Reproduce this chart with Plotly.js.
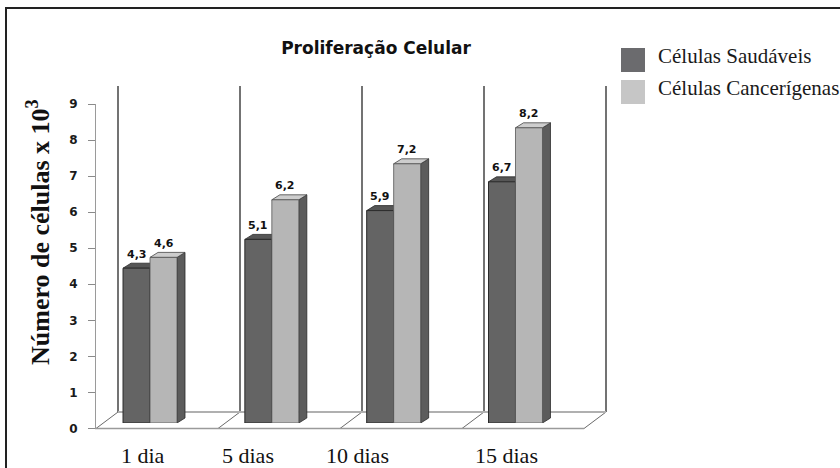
<!DOCTYPE html>
<html>
<head>
<meta charset="utf-8">
<script src="https://cdn.plot.ly/plotly-3.0.1.min.js"></script>
<style>
  html, body { margin: 0; padding: 0; background: #fff; }
  #chart { width: 840px; height: 468px; }
</style>
</head>
<body>
<div id="chart"></div>
<script>
// Proliferação celular: número de células (x 10^3) por dia de cultura
const categories = ['1 dia', '5 dias', '10 dias', '15 dias'];
const seriesNames = ['Células Saudáveis', 'Células Cancerígenas'];
const healthy = [4.3, 5.1, 5.9, 6.7];
const cancer = [4.6, 6.2, 7.2, 8.2];
const yTicks = [0, 1, 2, 3, 4, 5, 6, 7, 8, 9];

const W = 840, H = 468;
const px = x => x / W;            // canvas pixel -> paper x
const py = y => (H - y) / H;      // canvas pixel -> paper y

const colDark = '#646464', colLight = '#b6b6b6';
const legendDark = '#6b6b6e', legendLight = '#c6c6c6';
const serif = 'Liberation Serif, Times New Roman, serif';
const sans = 'DejaVu Sans, Verdana, sans-serif';

// bar geometry in category units
const bargap = 0.557;
const barW = (1 - bargap) / 2;
const depthX = 8 / 121.8;   // 3D depth, horizontal (category units)
const depthY = 5 / 36;      // 3D depth, vertical (value units)

const fmt = v => v.toFixed(1).replace('.', ',');

const traces = [
  {
    type: 'bar', name: seriesNames[0], x: categories, y: healthy,
    marker: { color: colDark, line: { color: '#2a2a2a', width: 1 } },
    hoverinfo: 'skip', showlegend: false
  },
  {
    type: 'bar', name: seriesNames[1], x: categories, y: cancer,
    marker: { color: colLight, line: { color: '#555', width: 0.8 } },
    hoverinfo: 'skip', showlegend: false
  },
  // carries the visible value axis
  { type: 'scatter', x: [], y: [], xaxis: 'x', yaxis: 'y2', showlegend: false, hoverinfo: 'skip' }
];

const shapes = [];
const annotations = [];

// outer frame
shapes.push({ type: 'rect', xref: 'paper', yref: 'paper',
  x0: px(6), x1: px(846), y0: py(476), y1: py(8),
  line: { color: '#222', width: 2 }, layer: 'below' });

// back wall dividers and floor
const wallX = [118, 240, 362, 484, 606];
wallX.forEach(x => {
  shapes.push({ type: 'line', xref: 'paper', yref: 'paper',
    x0: px(x), x1: px(x), y0: py(86), y1: py(412),
    line: { color: '#505050', width: 1.6 }, layer: 'below' });
  shapes.push({ type: 'line', xref: 'paper', yref: 'paper',
    x0: px(x - 22), x1: px(x), y0: py(428.5), y1: py(412),
    line: { color: '#6a6a6a', width: 1 }, layer: 'below' });
});
shapes.push({ type: 'line', xref: 'paper', yref: 'paper',
  x0: px(118), x1: px(606), y0: py(412), y1: py(412),
  line: { color: '#b0b0b0', width: 2 }, layer: 'below' });
shapes.push({ type: 'line', xref: 'paper', yref: 'paper',
  x0: px(95), x1: px(584), y0: py(428.5), y1: py(428.5),
  line: { color: '#9a9a9a', width: 1.4 }, layer: 'below' });

// 3D top and side faces of each bar, from the same values
const poly = pts => 'M ' + pts.map(p => p[0] + ',' + p[1]).join(' L ') + ' Z';
categories.forEach((c, i) => {
  const h = healthy[i], k = cancer[i];
  // dark bar top face
  let x0 = i - barW, x1 = i;
  shapes.push({ type: 'path', xref: 'x', yref: 'y', layer: 'between',
    path: poly([[x0, h], [x0 + depthX, h + depthY], [x1 + depthX, h + depthY], [x1, h]]),
    fillcolor: '#565656', line: { color: '#2a2a2a', width: 0.8 } });
  // light bar side and top faces
  x0 = i; x1 = i + barW;
  shapes.push({ type: 'path', xref: 'x', yref: 'y', layer: 'between',
    path: poly([[x1, 0], [x1 + depthX, depthY], [x1 + depthX, k + depthY], [x1, k]]),
    fillcolor: '#5c5c5c', line: { color: '#2a2a2a', width: 0.8 } });
  shapes.push({ type: 'path', xref: 'x', yref: 'y', layer: 'between',
    path: poly([[x0, k], [x0 + depthX, k + depthY], [x1 + depthX, k + depthY], [x1, k]]),
    fillcolor: '#cdcdcd', line: { color: '#444', width: 0.8 } });

  // value labels
  annotations.push({ xref: 'x', yref: 'y', x: i - barW / 2, y: h, text: fmt(h),
    showarrow: false, yanchor: 'middle', yshift: 14,
    font: { family: sans, size: 11, weight: 'bold', color: '#111' } });
  annotations.push({ xref: 'x', yref: 'y', x: i + barW / 2, y: k, text: fmt(k),
    showarrow: false, yanchor: 'middle', yshift: 14,
    font: { family: sans, size: 11, weight: 'bold', color: '#111' } });
});

// category labels under the floor
const labelShift = [-7, -24, -36, -9];
categories.forEach((c, i) => {
  annotations.push({ xref: 'x', yref: 'paper', x: i, y: py(455), text: c,
    showarrow: false, xanchor: 'center', yanchor: 'middle', xshift: labelShift[i],
    font: { family: serif, size: 22, color: '#111' } });
});

// value axis title
annotations.push({ xref: 'paper', yref: 'paper', x: px(38), y: py(232),
  text: 'Número de células x 10<sup>3</sup>', textangle: -90, showarrow: false,
  xanchor: 'center', yanchor: 'middle',
  font: { family: serif, size: 26, weight: 'bold', color: '#111' } });

// legend
const legendCols = [legendDark, legendLight];
const legendTop = [48, 80];
seriesNames.forEach((n, j) => {
  shapes.push({ type: 'rect', xref: 'paper', yref: 'paper',
    x0: px(621), x1: px(645), y0: py(legendTop[j] + 24), y1: py(legendTop[j]),
    fillcolor: legendCols[j], line: { width: 0 } });
  annotations.push({ xref: 'paper', yref: 'paper', x: px(656), y: py(legendTop[j] + 8),
    text: n, showarrow: false, xanchor: 'left', yanchor: 'middle',
    font: { family: serif, size: 21, color: '#1a1a1a' } });
});

const layout = {
  width: W, height: H,
  margin: { l: 0, r: 0, t: 0, b: 0 },
  paper_bgcolor: '#fff', plot_bgcolor: 'rgba(0,0,0,0)',
  title: { text: 'Proliferação Celular', x: px(376), xanchor: 'center',
    y: py(48), yanchor: 'middle',
    font: { family: sans, size: 17, weight: 'bold', color: '#111' } },
  barmode: 'group', bargap: bargap, bargroupgap: 0,
  showlegend: false,
  xaxis: { type: 'category', domain: [px(89.1), px(576.4)], range: [-0.5, 3.5],
    showticklabels: false, showgrid: false, zeroline: false, showline: false,
    ticks: '', fixedrange: true },
  yaxis: { domain: [py(423), py(99)], range: [0, 9], visible: false, fixedrange: true },
  yaxis2: { anchor: 'free', position: px(95), side: 'left',
    domain: [py(428.5), py(104)], range: [0, 9], autorange: false,
    tickmode: 'array', tickvals: yTicks, ticktext: yTicks.map(String),
    ticks: 'outside', ticklen: 7, tickcolor: '#8a8a8a', tickwidth: 1,
    showline: true, linecolor: '#9a9a9a', linewidth: 1,
    showgrid: false, zeroline: false, ticklabelstandoff: 8,
    tickfont: { family: sans, size: 12, weight: 'bold', color: '#1a1a1a' },
    fixedrange: true },
  shapes: shapes,
  annotations: annotations
};

Plotly.newPlot('chart', traces, layout, { displayModeBar: false, staticPlot: true });
</script>
</body>
</html>
